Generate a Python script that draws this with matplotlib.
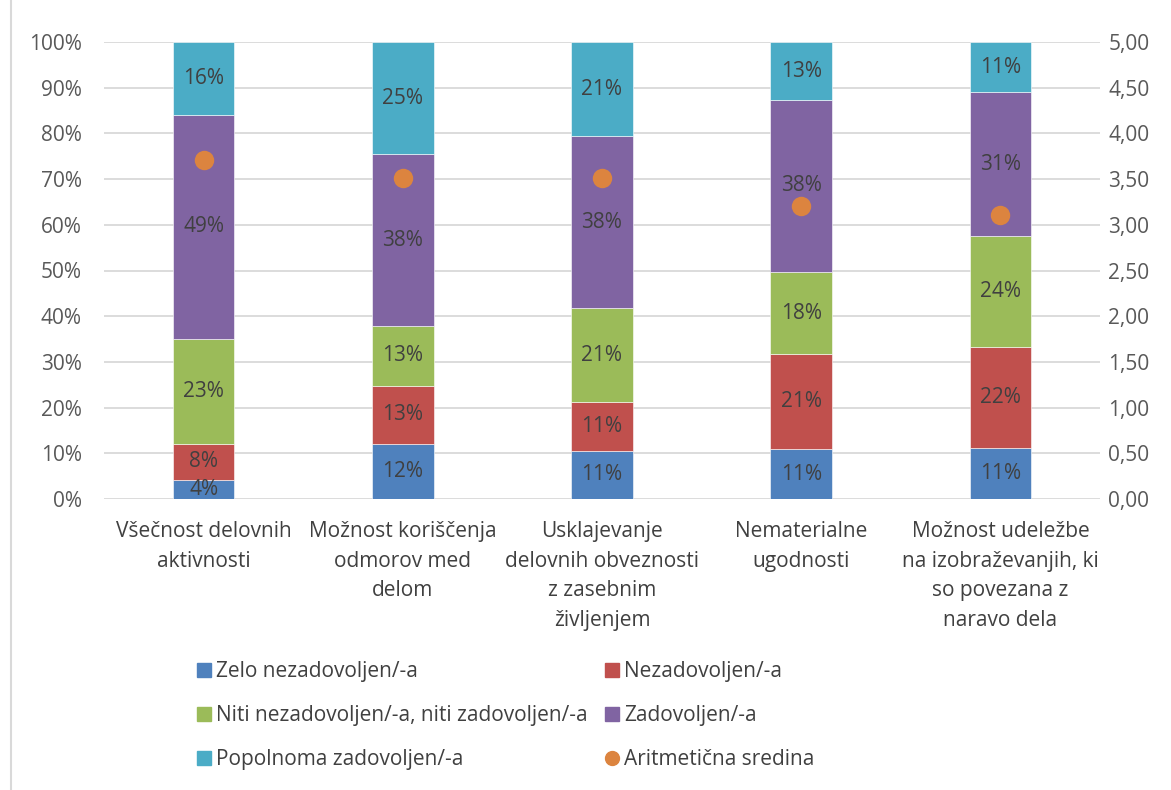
import numpy as np
import matplotlib.pyplot as plt
from matplotlib.lines import Line2D
from matplotlib.ticker import FuncFormatter

plt.rcParams["font.family"] = ["Open Sans", "DejaVu Sans"]

categories = [
    "Všečnost delovnih\naktivnosti",
    "Možnost koriščenja\nodmorov med\ndelom",
    "Usklajevanje\ndelovnih obveznosti\nz zasebnim\nživljenjem",
    "Nematerialne\nugodnosti",
    "Možnost udeležbe\nna izobraževanjih, ki\nso povezana z\nnaravo dela",
]

# shares in percent (bottom -> top)
zelo_nezadovoljen = [4.1, 12.0, 10.6, 10.9, 11.1]
nezadovoljen = [8.0, 12.8, 10.6, 20.8, 22.2]
niti = [23.0, 13.0, 20.6, 18.0, 24.3]
zadovoljen = [49.0, 37.6, 37.6, 37.6, 31.4]
popolnoma = [15.9, 24.6, 20.6, 12.7, 11.0]

# mean score, right axis (1-5)
aritmeticna_sredina = [3.71, 3.51, 3.51, 3.21, 3.11]

SERIES = [
    ("Zelo nezadovoljen/-a", zelo_nezadovoljen, "#4f81bd"),
    ("Nezadovoljen/-a", nezadovoljen, "#c0504d"),
    ("Niti nezadovoljen/-a, niti zadovoljen/-a", niti, "#9bbb59"),
    ("Zadovoljen/-a", zadovoljen, "#8064a2"),
    ("Popolnoma zadovoljen/-a", popolnoma, "#4bacc6"),
]
MEAN_COLOR = "#dc843f"
TEXT = "#404040"
TICK = "#595959"
GRID = "#d9d9d9"
FS = 15

fig = plt.figure(figsize=(11.71, 7.9), dpi=100)
ax = fig.add_axes([104 / 1171, 1 - 499 / 790, 996 / 1171, 457 / 790])

x = np.arange(len(categories))
bottom = np.zeros(len(categories))
for name, vals, color in SERIES:
    vals = np.array(vals)
    ax.bar(x, vals, 0.31, bottom=bottom, color=color,
           edgecolor="white", linewidth=0.4, zorder=3)
    for xi, b, v in zip(x, bottom, vals):
        ax.text(xi, b + v / 2, f"{v:.0f}%", ha="center", va="center",
                fontsize=FS, color=TEXT, zorder=4)
    bottom += vals

ax.set_xlim(-0.5, 4.5)
ax.set_ylim(0, 100)
ax.set_yticks(np.arange(0, 101, 10))
ax.yaxis.set_major_formatter(FuncFormatter(lambda v, _: f"{v:.0f}%"))
ax.set_xticks(x)
ax.set_xticklabels(categories, fontsize=FS, color=TEXT, linespacing=1.53)
ax.yaxis.grid(True, color=GRID, linewidth=1.3)
ax.set_axisbelow(True)
for s in ax.spines.values():
    s.set_visible(False)
ax.tick_params(axis="x", length=0, pad=16)
ax.tick_params(axis="y", length=0, pad=16, labelsize=FS, labelcolor=TICK)

ax2 = ax.twinx()
ax2.plot(x, aritmeticna_sredina, "o", color=MEAN_COLOR, markersize=14,
         markeredgewidth=0, zorder=5)
ax2.set_ylim(0, 5)
ax2.set_yticks(np.arange(0, 5.01, 0.5))
ax2.yaxis.set_major_formatter(
    FuncFormatter(lambda v, _: f"{v:.2f}".replace(".", ",")))
for s in ax2.spines.values():
    s.set_visible(False)
ax2.tick_params(axis="y", length=0, pad=6, labelsize=FS, labelcolor=TICK)

# chart-area border on the left edge
fig.add_artist(Line2D([11 / 1171, 11 / 1171], [0, 1], color=GRID, linewidth=1.5))

# legend, Excel order is row-major
handles = [Line2D([], [], marker="s", linestyle="none", markersize=10,
                  color=c) for _, _, c in SERIES]
handles.append(Line2D([], [], marker="o", linestyle="none", markersize=10,
                      color=MEAN_COLOR))
labels = [n for n, _, _ in SERIES] + ["Aritmetična sredina"]
order = [0, 2, 4, 1, 3, 5]
leg = fig.legend([handles[i] for i in order], [labels[i] for i in order],
                 ncol=2, loc="upper left",
                 bbox_to_anchor=(198 / 1171, 1 - 661 / 790),
                 frameon=False, fontsize=FS, handlelength=0.6,
                 handletextpad=0.25, columnspacing=0.9, labelspacing=1.1,
                 borderpad=0, borderaxespad=0)
for t in leg.get_texts():
    t.set_color(TEXT)

fig.savefig("out.png", dpi=100)
